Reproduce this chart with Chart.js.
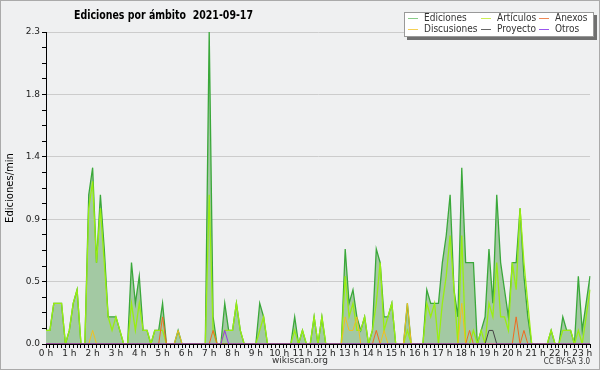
<!DOCTYPE html>
<html>
<head>
<meta charset="utf-8">
<script src="https://cdn.jsdelivr.net/npm/chart.js@4"></script>
<style>
  html, body { margin: 0; padding: 0; background: #eff0f1; }
  canvas { display: block; }
</style>
</head>
<body>
<canvas id="editsChart" width="600" height="370"></canvas>
<script>
// 10 minute bins, 00:00 .. 23:20
const times = [];
for (let h = 0; h < 24; h++) {
  for (let m = 0; m < 60; m += 10) {
    if (h * 60 + m <= 23 * 60 + 20) times.push(h + ":" + String(m).padStart(2, "0"));
  }
}

// one row per hour
const ediciones = [
  0.1, 0.1, 0.3, 0.3, 0.3, 0,
  0.1, 0.3, 0.4, 0, 0, 1.1,
  1.3, 0.6, 1.1, 0.7, 0.2, 0.2,
  0.2, 0.1, 0, 0, 0.6, 0.3,
  0.5, 0.1, 0.1, 0, 0.1, 0.1,
  0.3, 0, 0, 0, 0.1, 0,
  0, 0, 0, 0, 0, 0,
  2.3, 0.2, 0, 0, 0.3, 0.1,
  0.1, 0.3, 0.1, 0, 0, 0,
  0, 0.3, 0.2, 0, 0, 0,
  0, 0, 0, 0, 0.2, 0,
  0.1, 0, 0, 0.2, 0, 0.2,
  0, 0, 0, 0, 0, 0.7,
  0.3, 0.4, 0.2, 0.1, 0.2, 0,
  0.1, 0.7, 0.6, 0.2, 0.2, 0.3,
  0, 0, 0, 0.3, 0, 0,
  0, 0, 0.4, 0.3, 0.3, 0.3,
  0.6, 0.8, 1.1, 0.4, 0.2, 1.3,
  0.6, 0.6, 0.6, 0, 0.1, 0.2,
  0.7, 0.3, 1.1, 0.6, 0.4, 0.2,
  0.6, 0.6, 1.0, 0.5, 0.2, 0,
  0, 0, 0, 0, 0.1, 0,
  0, 0.2, 0.1, 0.1, 0, 0.5,
  0.1, 0.3, 0.5
];

const articulos = [
  0.1, 0.1, 0.3, 0.3, 0.3, 0,
  0.1, 0.3, 0.4, 0, 0, 1.0,
  1.2, 0.6, 1.0, 0.6, 0.2, 0.1,
  0.2, 0.1, 0, 0, 0.3, 0.1,
  0.3, 0.1, 0.1, 0, 0.1, 0.1,
  0.1, 0, 0, 0, 0, 0,
  0, 0, 0, 0, 0, 0,
  1.1, 0.1, 0, 0, 0.1, 0.1,
  0.1, 0.3, 0.1, 0, 0, 0,
  0, 0.1, 0.2, 0, 0, 0,
  0, 0, 0, 0, 0.1, 0,
  0.1, 0, 0, 0.2, 0, 0.2,
  0, 0, 0, 0, 0, 0.5,
  0.2, 0.3, 0.1, 0.1, 0.2, 0,
  0.1, 0.3, 0.6, 0.1, 0.2, 0.3,
  0, 0, 0, 0.1, 0, 0,
  0, 0, 0.3, 0.2, 0.3, 0,
  0.3, 0.5, 0.8, 0.4, 0, 0.8,
  0, 0, 0.1, 0, 0.1, 0,
  0.3, 0.2, 0.6, 0.2, 0.2, 0.1,
  0.6, 0.4, 1.0, 0.6, 0.3, 0,
  0, 0, 0, 0, 0.1, 0,
  0, 0.1, 0.1, 0.1, 0, 0.1,
  0, 0.2, 0.4
];

// sparse series: only the non-zero bins
const anexos = { "5:00": 0.2, "7:10": 0.1, "14:10": 0.1, "18:10": 0.1, "20:10": 0.2, "20:30": 0.1 };
const discusiones = { "2:00": 0.1, "5:40": 0.1, "12:50": 0.2, "13:00": 0.1, "13:10": 0.1, "13:20": 0.2,
  "14:30": 0.1, "15:30": 0.3, "17:50": 0.3 };
const proyecto = { "19:00": 0.1, "19:10": 0.1 };
const otros = { "7:40": 0.1 };

const yMax = 2.3;
const yStep = yMax / 20;
const yTicks = [];
for (let i = 0; i <= 20; i++) yTicks.push(i * yStep);

const fill = (obj) => times.map((t) => obj[t] || 0);

const legendItems = [
  { label: "Ediciones", color: "#88cc88" },
  { label: "Artículos", color: "#ccee55" },
  { label: "Anexos", color: "#ee8855" },
  { label: "Discusiones", color: "#f5d055" },
  { label: "Proyecto", color: "#666666" },
  { label: "Otros", color: "#9955ee" },
];

const decor = {
  id: "decor",
  beforeDraw(chart) {
    const c = chart.ctx;
    c.save();
    c.fillStyle = "#eff0f1";
    c.fillRect(0, 0, chart.width, chart.height);
    c.restore();
  },
  afterDraw(chart) {
    const c = chart.ctx;
    c.save();
    // frame
    c.strokeStyle = "#aaaaaa";
    c.lineWidth = 1;
    c.strokeRect(0.5, 0.5, chart.width - 1, chart.height - 1);

    // title, squeezed to the narrow width of the original
    const title = "Ediciones por ámbito  2021-09-17";
    c.fillStyle = "#000";
    c.font = "bold 13px 'DejaVu Sans'";
    c.textAlign = "left";
    c.textBaseline = "alphabetic";
    const tw = c.measureText(title).width;
    c.save();
    c.translate(74, 19);
    c.scale(179 / tw, 1);
    c.fillText(title, 0, 0);
    c.restore();

    // y title
    c.save();
    c.translate(10, 188);
    c.rotate(-Math.PI / 2);
    c.font = "10px 'DejaVu Sans'";
    c.textAlign = "center";
    c.textBaseline = "middle";
    c.fillText("Ediciones/min", 0, 0);
    c.restore();

    // legend box
    c.fillStyle = "#707070";
    c.fillRect(407, 15, 190, 25);
    c.fillStyle = "#ffffff";
    c.fillRect(404, 12, 190, 25);
    c.strokeStyle = "#999999";
    c.strokeRect(404.5, 12.5, 189, 24);
    const colX = [408, 481, 539];
    const rowY = [18.5, 29.5];
    c.font = "10px 'DejaVu Sans Condensed', 'DejaVu Sans'";
    c.textBaseline = "middle";
    legendItems.forEach((it, i) => {
      const x = colX[i % 3], y = rowY[Math.floor(i / 3)];
      c.strokeStyle = it.color;
      c.beginPath();
      c.moveTo(x, y);
      c.lineTo(x + 10, y);
      c.stroke();
      c.fillStyle = "#333";
      c.fillText(it.label, x + 16, y);
    });

    // footer
    c.fillStyle = "#333";
    c.font = "9px 'DejaVu Sans'";
    c.textAlign = "center";
    c.fillText("wikiscan.org", 300, 361);
    c.font = "8px 'DejaVu Sans Condensed', 'DejaVu Sans'";
    c.textAlign = "right";
    c.fillText("CC BY-SA 3.0", 590, 362);
    c.restore();
  },
};

const datasets = [
  { label: "Ediciones", data: ediciones, borderColor: "#3aa83a", backgroundColor: "#a3c9a3",
    fill: "origin", borderWidth: 1.3, order: 6 },
  { label: "Artículos", data: articulos, borderColor: "#99ee11", fill: false, borderWidth: 1.3, order: 5 },
  { label: "Anexos", data: fill(anexos), borderColor: "#f06a20", fill: false, borderWidth: 1, order: 3 },
  { label: "Discusiones", data: fill(discusiones), borderColor: "#f0c020", fill: false, borderWidth: 1, order: 4 },
  { label: "Proyecto", data: fill(proyecto), borderColor: "#444444", fill: false, borderWidth: 1, order: 2 },
  { label: "Otros", data: fill(otros), borderColor: "#9933ee", fill: false, borderWidth: 1, order: 1 },
];

const config = {
  type: "line",
  data: { labels: times, datasets: datasets },
  options: {
    responsive: false,
    animation: false,
    events: [],
    layout: { padding: { left: 0, right: 10, top: 32, bottom: 0 } },
    elements: { point: { radius: 0 }, line: { tension: 0 } },
    plugins: { legend: { display: false }, tooltip: { enabled: false } },
    scales: {
      x: {
        z: 1,
        offset: false,
        afterFit: (s) => { s.height = 26; },
        grid: { drawOnChartArea: false, tickLength: 4, tickColor: "#000" },
        border: { color: "#000", width: 1 },
        ticks: {
          autoSkip: false,
          maxRotation: 0,
          padding: 0,
          color: "#222",
          font: { family: "DejaVu Sans", size: 9 },
          callback: (v, i) => (times[i].endsWith(":00") ? parseInt(times[i]) + " h" : ""),
        },
      },
      y: {
        min: 0,
        max: yMax,
        afterFit: (s) => { s.width = 46; },
        afterBuildTicks: (s) => { s.ticks = yTicks.map((v) => ({ value: v })); },
        grid: {
          color: (ctx) => (ctx.index % 4 === 0 ? "#cccccc" : "rgba(0,0,0,0)"),
          tickColor: "#000",
          tickLength: 4,
        },
        border: { color: "#000", width: 1 },
        ticks: {
          padding: 2,
          color: "#222",
          font: { family: "DejaVu Sans", size: 9 },
          callback: (v, i) => (i % 4 === 0 ? v.toFixed(1) : ""),
        },
      },
    },
  },
  plugins: [decor],
};

const editsChart = new Chart(document.getElementById("editsChart"), config);
</script>
</body>
</html>
